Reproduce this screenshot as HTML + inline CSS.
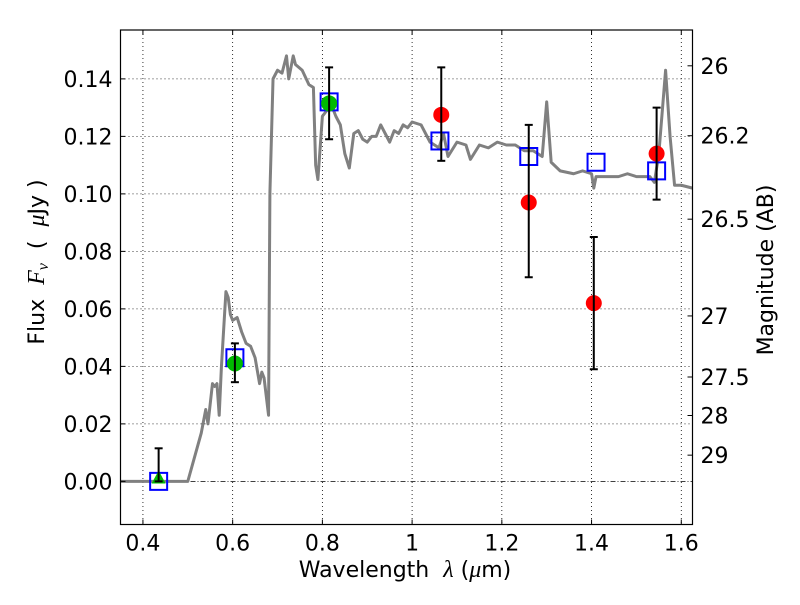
<!DOCTYPE html>
<html><head><meta charset="utf-8"><style>
body{margin:0;background:#fff}
svg text{font-family:"DejaVu Sans","Liberation Sans",sans-serif;fill:#000;white-space:pre}
</style></head><body>
<svg id="chart" width="800" height="600" xmlns="http://www.w3.org/2000/svg">
<rect width="800" height="600" fill="#fff"/>
<g id="grid"></g>
<g id="marks"></g>
<rect x="120.5" y="30" width="572" height="494.5" fill="none" stroke="#000" stroke-width="1.2"/>
<g id="ticks"></g>
<text x="405" y="577" font-size="22" text-anchor="middle">Wavelength  <tspan font-family="Liberation Serif" font-style="italic" font-size="24">λ</tspan> (<tspan font-family="Liberation Serif" font-style="italic" font-size="24">μ</tspan>m)</text>
<text transform="translate(44,262) rotate(-90)" font-size="22" text-anchor="middle">Flux  <tspan font-family="Liberation Serif" font-style="italic" font-size="24">F<tspan font-size="16" dy="4">ν</tspan></tspan><tspan dy="-4">  (  </tspan><tspan font-family="Liberation Serif" font-style="italic" font-size="24">μ</tspan>Jy )</text>
<text transform="translate(773,270) rotate(-90)" font-size="22" text-anchor="middle">Magnitude (AB)</text>
</svg>
<script>
const specX=[0.35,0.5,0.53,0.54,0.545,0.555,0.56,0.565,0.57,0.575,0.585,0.59,0.595,0.6,0.61,0.62,0.63,0.64,0.65,0.66,0.665,0.67,0.68,0.683,0.69,0.7,0.71,0.72,0.725,0.735,0.74,0.755,0.77,0.78,0.785,0.79,0.8,0.82,0.83,0.84,0.85,0.86,0.87,0.88,0.89,0.9,0.91,0.92,0.93,0.94,0.95,0.96,0.97,0.98,0.99,1.0,1.02,1.04,1.06,1.07,1.08,1.1,1.12,1.13,1.15,1.17,1.19,1.21,1.23,1.25,1.27,1.29,1.3,1.31,1.33,1.36,1.38,1.4,1.405,1.41,1.43,1.46,1.48,1.5,1.53,1.54,1.55,1.565,1.575,1.585,1.6,1.625];
const specY=[0,0,0.0168,0.025,0.02,0.034,0.033,0.034,0.023,0.04,0.066,0.064,0.058,0.056,0.057,0.052,0.048,0.047,0.043,0.034,0.038,0.036,0.023,0.1,0.14,0.143,0.142,0.148,0.14,0.148,0.145,0.143,0.138,0.137,0.11,0.105,0.127,0.131,0.127,0.124,0.114,0.109,0.121,0.122,0.119,0.118,0.12,0.12,0.124,0.121,0.118,0.122,0.121,0.124,0.123,0.125,0.124,0.118,0.116,0.121,0.113,0.118,0.117,0.112,0.117,0.116,0.118,0.117,0.117,0.115,0.115,0.113,0.132,0.111,0.108,0.107,0.108,0.107,0.102,0.106,0.106,0.106,0.107,0.106,0.106,0.104,0.114,0.143,0.12,0.103,0.103,0.102];
const sqX=[0.435,0.605,0.815,1.062,1.26,1.41,1.545];
const sqY=[0.0,0.043,0.132,0.1184,0.113,0.111,0.108];
const greenX=[0.605,0.815];
const greenY=[0.041,0.1315];
const greenHi=[0.048,0.144];
const greenLo=[0.0345,0.119];
const triX=[0.435];const triY=[0.001];const triHi=[0.0115];const triLo=[0.0];
const redX=[1.065,1.26,1.405,1.545];
const redY=[0.1275,0.097,0.062,0.114];
const redHi=[0.144,0.124,0.085,0.130];
const redLo=[0.1115,0.071,0.039,0.098];
const xTicks=[0.4,0.6,0.8,1.0,1.2,1.4,1.6];
const xTickLabels=["0.4","0.6","0.8","1","1.2","1.4","1.6"];
const yTicks=[0,0.02,0.04,0.06,0.08,0.1,0.12,0.14];
const yTickLabels=["0.00","0.02","0.04","0.06","0.08","0.10","0.12","0.14"];
const magTicks=[26,26.2,26.5,27,27.5,28,29];
const magLabels=["26","26.2","26.5","27","27.5","28","29"];

const L=120.5,R=692.5,T=30,B=524.5,X0=0.35,X1=1.625,Y0=-0.015,Y1=0.157;
const sx=v=>L+(v-X0)/(X1-X0)*(R-L);
const sy=v=>B-(v-Y0)/(Y1-Y0)*(B-T);
const NS="http://www.w3.org/2000/svg";
function mk(parent,tag,attrs){const e=document.createElementNS(NS,tag);for(const k in attrs)e.setAttribute(k,attrs[k]);parent.appendChild(e);return e;}
const grid=document.getElementById('grid'),marks=document.getElementById('marks'),ticks=document.getElementById('ticks');
xTicks.forEach((v,i)=>{
 const g=mk(grid,'line',{x1:sx(v),x2:sx(v),y1:T,y2:B,stroke:'#000','stroke-width':0.8,'stroke-dasharray':'1,3'});
 
 mk(ticks,'line',{x1:sx(v),x2:sx(v),y1:B,y2:B-5,stroke:'#000'});
 mk(ticks,'line',{x1:sx(v),x2:sx(v),y1:T,y2:T+5,stroke:'#000'});
 const t=mk(ticks,'text',{x:sx(v),y:B+26,'font-size':22,'text-anchor':'middle'});t.textContent=xTickLabels[i];
 
});
yTicks.forEach((v,i)=>{
 if(v!==0){const g=mk(grid,'line',{x1:L,x2:R,y1:sy(v),y2:sy(v),stroke:'#000','stroke-width':0.8,'stroke-dasharray':'1,3'});
 }
 mk(ticks,'line',{x1:L,x2:L+5,y1:sy(v),y2:sy(v),stroke:'#000'});
 const t=mk(ticks,'text',{x:L-8,y:sy(v)+8,'font-size':22,'text-anchor':'end'});t.textContent=yTickLabels[i];
 
});
const zl=mk(grid,'line',{x1:L,x2:R,y1:sy(0),y2:sy(0),stroke:'#000','stroke-width':0.8,'stroke-dasharray':'5,2,1,2'});

magTicks.forEach((m,i)=>{
 const f=Math.pow(10,(23.9-m)/2.5);
 mk(ticks,'line',{x1:R,x2:R-5,y1:sy(f),y2:sy(f),stroke:'#000'});
 const t=mk(ticks,'text',{x:R+8,y:sy(f)+8,'font-size':22});t.textContent=magLabels[i];
 
});
const sp=mk(marks,'polyline',{points:specX.map((x,i)=>sx(x)+','+sy(specY[i])).join(' '),fill:'none',stroke:'#808080','stroke-width':3,'stroke-linejoin':'round'});

function err(x,lo,hi){
 const g=mk(marks,'g',{});
 
 mk(g,'line',{x1:sx(x),x2:sx(x),y1:sy(lo),y2:sy(hi),stroke:'#000','stroke-width':2});
 mk(g,'line',{x1:sx(x)-4,x2:sx(x)+4,y1:sy(lo),y2:sy(lo),stroke:'#000','stroke-width':2});
 mk(g,'line',{x1:sx(x)-4,x2:sx(x)+4,y1:sy(hi),y2:sy(hi),stroke:'#000','stroke-width':2});
}
sqX.forEach((x,i)=>{const r=mk(marks,'rect',{x:sx(x)-8.5,y:sy(sqY[i])-8.5,width:17,height:17,fill:'none',stroke:'#0000ff','stroke-width':2});
 });
greenX.forEach((x,i)=>{const c=mk(marks,'circle',{cx:sx(x),cy:sy(greenY[i]),r:8,fill:'#00bb00'});
 err(x,greenLo[i],greenHi[i]);});
triX.forEach((x,i)=>{const X=sx(x),Y=sy(triY[i]);const p=mk(marks,'polygon',{points:`${X},${Y-8} ${X-7},${Y+5} ${X+7},${Y+5}`,fill:'#00bb00'});
 err(x,triLo[i],triHi[i]);});
redX.forEach((x,i)=>{const c=mk(marks,'circle',{cx:sx(x),cy:sy(redY[i]),r:8,fill:'#ff0000'});
 err(x,redLo[i],redHi[i]);});
</script>
</body></html>
